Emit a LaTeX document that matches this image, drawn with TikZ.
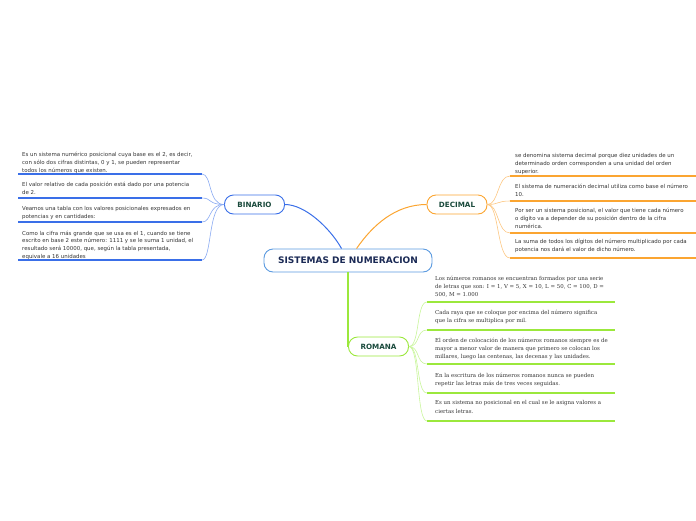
\documentclass[tikz,border=0pt]{standalone}
\usepackage{fontspec}
\setmainfont{DejaVu Sans}
\newfontfamily\serifx{DejaVu Serif}
\definecolor{cblue}{HTML}{3A6FE8}
\definecolor{cbluel}{HTML}{8AAAF2}
\definecolor{corange}{HTML}{FBA531}
\definecolor{corangel}{HTML}{FCC680}
\definecolor{cgreen}{HTML}{9BE83C}
\definecolor{cgreenl}{HTML}{C8F59A}
\definecolor{ctitle}{HTML}{1B2A55}
\definecolor{clabel}{HTML}{1A4A3C}
\definecolor{ctext}{HTML}{333333}
\definecolor{cring}{HTML}{5C9BE0}
\tikzset{
  x=1pt,y=-1pt,
  mainbox/.style={draw=cring,line width=0.9pt,rounded corners=9pt,fill=white,minimum width=168pt,minimum height=23pt,font=\fontsize{9}{10}\selectfont\bfseries,text=ctitle},
  topicbox/.style={line width=0.9pt,rounded corners=9pt,fill=white,minimum width=60pt,minimum height=19pt,font=\fontsize{7.2}{8}\selectfont\bfseries,text=clabel},
  sanstext/.style={anchor=north west,inner sep=0pt,align=left,text=ctext,font=\fontsize{5.45}{7.9}\selectfont},
  seriftext/.style={anchor=north west,inner sep=0pt,align=left,text=ctext,font=\serifx\fontsize{5.45}{8.3}\selectfont},
  uline/.style={line width=1.3pt},
  branch/.style={line width=0.6pt},
}
\begin{document}
\begin{tikzpicture}
\useasboundingbox (0,0) rectangle (696,520);
% main nodes
\node[mainbox] (main) at (348,260.5) {SISTEMAS DE NUMERACION};
\node[topicbox,draw=cblue] (bin) at (254.5,204.5) {BINARIO};
\node[topicbox,draw=corange] (dec) at (457,204.5) {DECIMAL};
\node[topicbox,draw=cgreen] (rom) at (378.5,346.5) {ROMANA};
% main connectors
\draw[cblue,line width=1pt] (main.north west) ++(78,0) coordinate (m1) .. controls (330,228) and (305,204.5) .. (bin.east);
\draw[corange,line width=1pt] (main.north west) ++(93,0) coordinate (m2) .. controls (372,226) and (395,204.5) .. (dec.west);
\draw[cgreen,line width=1.3pt] (rom.west |- main.south) -- (rom.west);
% BINARIO children
\node[sanstext] (b1) at (22,152) {Es un sistema numérico posicional cuya base es el 2, es decir,\\con sólo dos cifras distintas, 0 y 1, se pueden representar\\todos los números que existen.};
\node[sanstext] (b2) at (22,182) {El valor relativo de cada posición está dado por una potencia\\de 2.};
\node[sanstext] (b3) at (22,206) {Veamos una tabla con los valores posicionales expresados en\\potencias y en cantidades:};
\node[sanstext] (b4) at (22,230.5) {Como la cifra más grande que se usa es el 1, cuando se tiene\\escrito en base 2 este número: 1111 y se le suma 1 unidad, el\\resultado será 10000, que, según la tabla presentada,\\equivale a 16 unidades};
\foreach \n/\y in {1/174,2/198,3/222,4/260}{
  \coordinate (bl\n) at (18,\y);
  \coordinate (br\n) at (202,\y);
  \draw[cblue,uline] (bl\n) -- (br\n);
  \draw[cbluel,branch] (br\n) .. controls (212,\y) and (208,204.5) .. (bin.west);
}
% DECIMAL children
\node[sanstext] (d1) at (515,153.5) {se denomina sistema decimal porque diez unidades de un\\determinado orden corresponden a una unidad del orden\\superior.};
\node[sanstext] (d2) at (515,184) {El sistema de numeración decimal utiliza como base el número\\10.};
\node[sanstext] (d3) at (515,208) {Por ser un sistema posicional, el valor que tiene cada número\\o dígito va a depender de su posición dentro de la cifra\\numérica.};
\node[sanstext] (d4) at (515,239) {La suma de todos los dígitos del número multiplicado por cada\\potencia nos dará el valor de dicho número.};
\foreach \n/\y in {1/176,2/201,3/233,4/258}{
  \coordinate (dl\n) at (510,\y);
  \coordinate (dr\n) at (696,\y);
  \draw[corange,uline] (dl\n) -- (dr\n);
  \draw[corangel,branch] (dec.east) .. controls (499,204.5) and (497,\y) .. (dl\n);
}
% ROMANA children
\node[seriftext] (r1) at (435,275.5) {Los números romanos se encuentran formados por una serie\\de letras que son: I = 1, V = 5, X = 10, L = 50, C = 100, D =\\500, M = 1.000};
\node[seriftext] (r2) at (435,309.5) {Cada raya que se coloque por encima del número significa\\que la cifra se multiplica por mil.};
\node[seriftext] (r3) at (435,337.5) {El orden de colocación de los números romanos siempre es de\\mayor a menor valor de manera que primero se colocan los\\millares, luego las centenas, las decenas y las unidades.};
\node[seriftext] (r4) at (435,372.5) {En la escritura de los números romanos nunca se pueden\\repetir las letras más de tres veces seguidas.};
\node[seriftext] (r5) at (435,400.5) {Es un sistema no posicional en el cual se le asigna valores a\\ciertas letras.};
\foreach \n/\y in {1/302,2/330,3/364,4/393,5/421}{
  \coordinate (rl\n) at (427,\y);
  \coordinate (rr\n) at (615,\y);
  \draw[cgreen,uline] (rl\n) -- (rr\n);
  \draw[cgreenl,branch] (rom.east) .. controls (420,346.5) and (416,\y) .. (rl\n);
}
\end{tikzpicture}
\end{document}
